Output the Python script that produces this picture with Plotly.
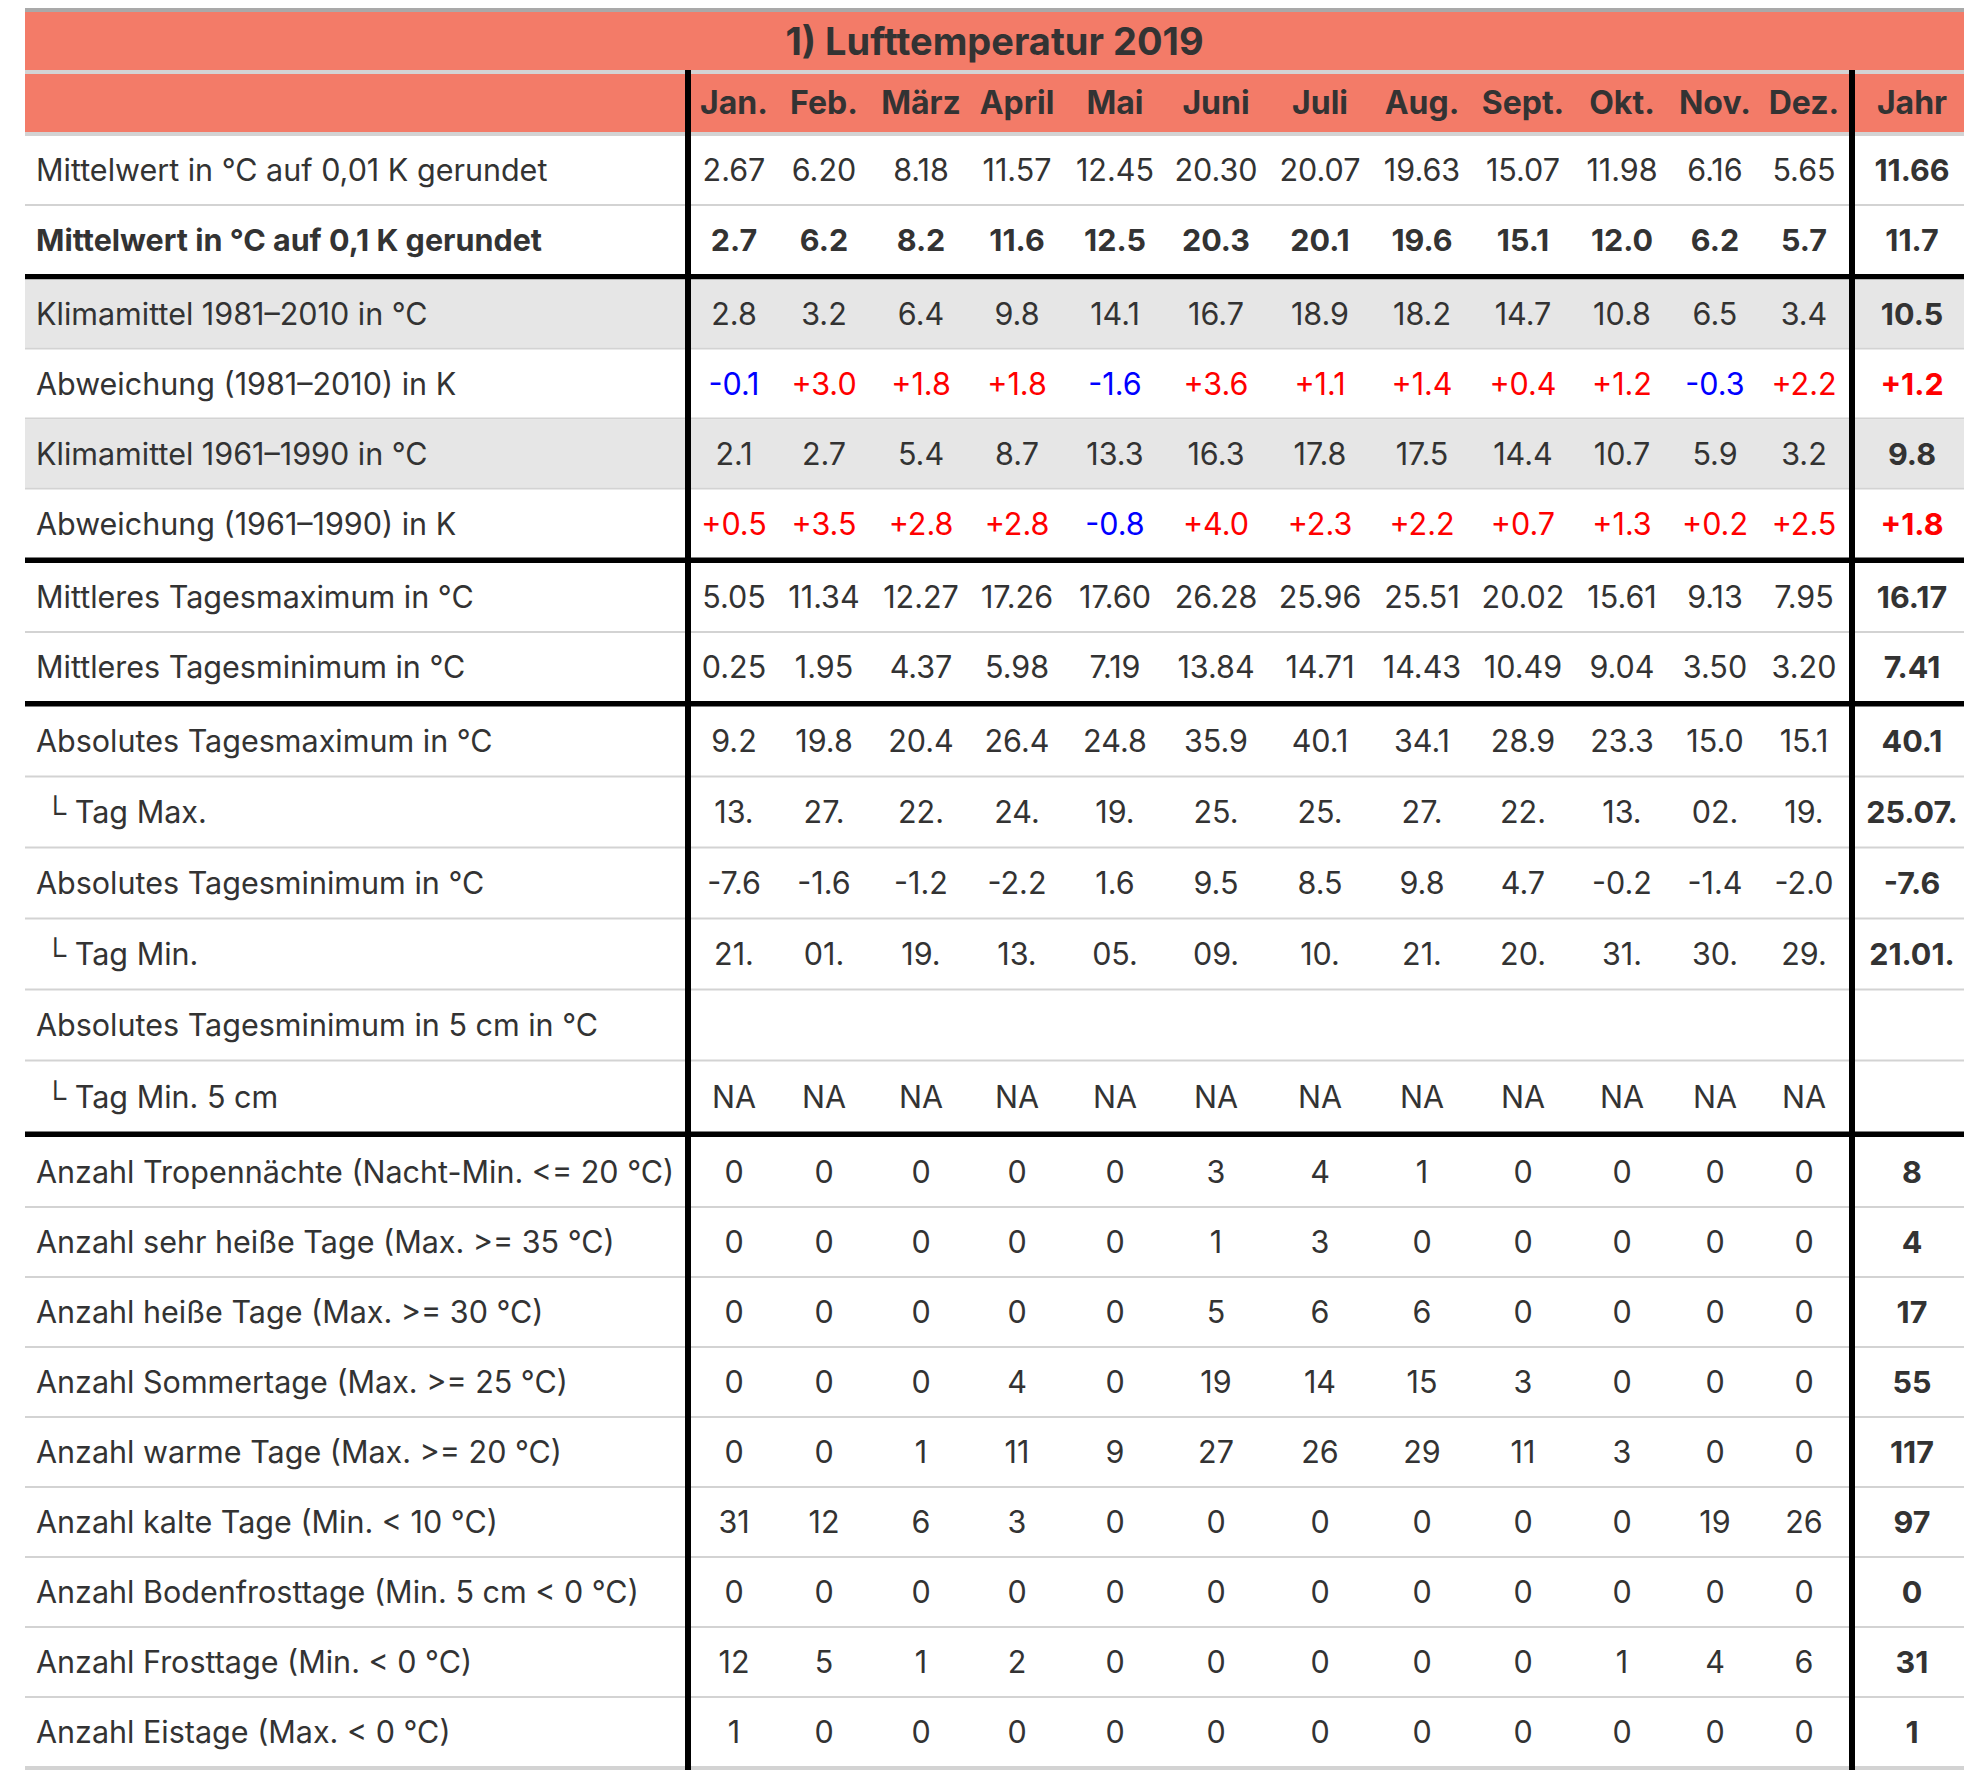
import plotly.graph_objects as go

# --- Daten ---
titel = "1) Lufttemperatur 2019"
monate = ["Jan.", "Feb.", "März", "April", "Mai", "Juni", "Juli", "Aug.", "Sept.", "Okt.", "Nov.", "Dez."]
jahr_kopf = "Jahr"

zeilen = [
    "Mittelwert in °C auf 0,01 K gerundet",
    "Mittelwert in °C auf 0,1 K gerundet",
    "Klimamittel 1981–2010 in °C",
    "Abweichung (1981–2010) in K",
    "Klimamittel 1961–1990 in °C",
    "Abweichung (1961–1990) in K",
    "Mittleres Tagesmaximum in °C",
    "Mittleres Tagesminimum in °C",
    "Absolutes Tagesmaximum in °C",
    "\u00a0└ Tag Max.",
    "Absolutes Tagesminimum in °C",
    "\u00a0└ Tag Min.",
    "Absolutes Tagesminimum in 5 cm in °C",
    "\u00a0└ Tag Min. 5 cm",
    "Anzahl Tropennächte (Nacht-Min. <= 20 °C)",
    "Anzahl sehr heiße Tage (Max. >= 35 °C)",
    "Anzahl heiße Tage (Max. >= 30 °C)",
    "Anzahl Sommertage (Max. >= 25 °C)",
    "Anzahl warme Tage (Max. >= 20 °C)",
    "Anzahl kalte Tage (Min. < 10 °C)",
    "Anzahl Bodenfrosttage (Min. 5 cm < 0 °C)",
    "Anzahl Frosttage (Min. < 0 °C)",
    "Anzahl Eistage (Max. < 0 °C)",
]

mittel_001 = ["2.67", "6.20", "8.18", "11.57", "12.45", "20.30", "20.07", "19.63", "15.07", "11.98", "6.16", "5.65"]
mittel_01 = ["2.7", "6.2", "8.2", "11.6", "12.5", "20.3", "20.1", "19.6", "15.1", "12.0", "6.2", "5.7"]
klima_8110 = ["2.8", "3.2", "6.4", "9.8", "14.1", "16.7", "18.9", "18.2", "14.7", "10.8", "6.5", "3.4"]
abw_8110 = ["-0.1", "+3.0", "+1.8", "+1.8", "-1.6", "+3.6", "+1.1", "+1.4", "+0.4", "+1.2", "-0.3", "+2.2"]
klima_6190 = ["2.1", "2.7", "5.4", "8.7", "13.3", "16.3", "17.8", "17.5", "14.4", "10.7", "5.9", "3.2"]
abw_6190 = ["+0.5", "+3.5", "+2.8", "+2.8", "-0.8", "+4.0", "+2.3", "+2.2", "+0.7", "+1.3", "+0.2", "+2.5"]
tmax_mittel = ["5.05", "11.34", "12.27", "17.26", "17.60", "26.28", "25.96", "25.51", "20.02", "15.61", "9.13", "7.95"]
tmin_mittel = ["0.25", "1.95", "4.37", "5.98", "7.19", "13.84", "14.71", "14.43", "10.49", "9.04", "3.50", "3.20"]
tmax_abs = ["9.2", "19.8", "20.4", "26.4", "24.8", "35.9", "40.1", "34.1", "28.9", "23.3", "15.0", "15.1"]
tag_max = ["13.", "27.", "22.", "24.", "19.", "25.", "25.", "27.", "22.", "13.", "02.", "19."]
tmin_abs = ["-7.6", "-1.6", "-1.2", "-2.2", "1.6", "9.5", "8.5", "9.8", "4.7", "-0.2", "-1.4", "-2.0"]
tag_min = ["21.", "01.", "19.", "13.", "05.", "09.", "10.", "21.", "20.", "31.", "30.", "29."]
tmin5_abs = ["", "", "", "", "", "", "", "", "", "", "", ""]
tag_min5 = ["NA", "NA", "NA", "NA", "NA", "NA", "NA", "NA", "NA", "NA", "NA", "NA"]
tropennaechte = [0, 0, 0, 0, 0, 3, 4, 1, 0, 0, 0, 0]
sehr_heisse_tage = [0, 0, 0, 0, 0, 1, 3, 0, 0, 0, 0, 0]
heisse_tage = [0, 0, 0, 0, 0, 5, 6, 6, 0, 0, 0, 0]
sommertage = [0, 0, 0, 4, 0, 19, 14, 15, 3, 0, 0, 0]
warme_tage = [0, 0, 1, 11, 9, 27, 26, 29, 11, 3, 0, 0]
kalte_tage = [31, 12, 6, 3, 0, 0, 0, 0, 0, 0, 19, 26]
bodenfrosttage = [0, 0, 0, 0, 0, 0, 0, 0, 0, 0, 0, 0]
frosttage = [12, 5, 1, 2, 0, 0, 0, 0, 0, 1, 4, 6]
eistage = [1, 0, 0, 0, 0, 0, 0, 0, 0, 0, 0, 0]

jahr = ["11.66", "11.7", "10.5", "+1.2", "9.8", "+1.8", "16.17", "7.41", "40.1", "25.07.",
        "-7.6", "21.01.", "", "", "8", "4", "17", "55", "117", "97", "0", "31", "1"]

werte = [mittel_001, mittel_01, klima_8110, abw_8110, klima_6190, abw_6190,
         tmax_mittel, tmin_mittel, tmax_abs, tag_max, tmin_abs, tag_min, tmin5_abs, tag_min5,
         tropennaechte, sehr_heisse_tage, heisse_tage, sommertage, warme_tage, kalte_tage,
         bodenfrosttage, frosttage, eistage]

# --- Layout / Stil ---
W, H = 1964, 1778
FONT = "Inter"
SIZE = 30.5
SIZE_KOPF = 32
SIZE_TITEL = 38
TEXT = "#333333"
LACHS = "#F37B68"
ZEILE_GRAU = "#E6E6E6"
LINIE = "#D3D3D3"
ROT, BLAU = "#FF0000", "#0000FF"

LEFT, RIGHT = 25, 1964
LABEL_X = 36
COL_LEFT = 691
COL_WIDTHS = [86, 94, 100, 92, 104, 98, 110, 94, 108, 90, 96, 82]
JAHR_X = 1912
V_LINES = [688, 1852]
TEXT_DY = 3.5   # Plotly setzt "middle" etwas zu hoch

fett_zeilen = {1}
grau_zeilen = {2, 4}
abw_zeilen = {3, 5}
dick_nach = {1, 5, 7, 13}
ZEILEN_H = [70, 73.5, 70, 70, 70, 73.5, 70, 73.5, 71, 71, 71, 71, 71, 75.5,
            71, 70, 70, 70, 70, 70, 70, 70, 72]

col_x = []
x = COL_LEFT
for w in COL_WIDTHS:
    col_x.append(x + w / 2)
    x += w

shapes = []


def band(y0, y1, color, x0=LEFT, x1=RIGHT):
    shapes.append(dict(type="rect", xref="x", yref="y", x0=x0, x1=x1, y0=y0, y1=y1,
                       fillcolor=color, line=dict(width=0), layer="below"))


band(8, 12, "#A9A9A9")
band(12, 70, LACHS)
band(70, 74, LINIE)
band(74, 132, LACHS)
band(132, 136, LINIE)

y_mitte = []
y = 136
for i, h in enumerate(ZEILEN_H):
    top, bot = y, y + h
    if i in dick_nach:
        rand, farbe = 5.5, "#000000"
    elif i == len(ZEILEN_H) - 1:
        rand, farbe = 4, LINIE
    else:
        rand, farbe = 2, LINIE
    if i in grau_zeilen:
        band(top, bot - rand, ZEILE_GRAU)
    band(bot - rand, bot, farbe)
    y_mitte.append((top + bot - rand) / 2 + TEXT_DY)
    y = bot

for vx in V_LINES:
    band(70, y, "#000000", vx - 3, vx + 3)

fig = go.Figure()


def spalte(xs, ys, texte, farben, pos="middle center", size=SIZE):
    fig.add_trace(go.Scatter(
        x=xs, y=ys, text=texte, mode="text", textposition=pos,
        textfont=dict(family=FONT, size=size, color=farben),
        hoverinfo="skip", showlegend=False, cliponaxis=False))


def farbe_fuer(i, wert):
    if i in abw_zeilen and wert:
        return ROT if float(wert) > 0 else BLAU
    return TEXT


# Titel und Kopfzeile
spalte([(LEFT + RIGHT) / 2], [41 + TEXT_DY + 1], ["<b>" + titel + "</b>"], [TEXT], size=SIZE_TITEL)
spalte(col_x + [JAHR_X], [103 + TEXT_DY - 1] * 13, ["<b>" + m + "</b>" for m in monate + [jahr_kopf]],
       [TEXT] * 13, size=SIZE_KOPF)

# Zeilenbeschriftungen
spalte([LABEL_X] * len(zeilen), y_mitte,
       ["<b>" + z + "</b>" if i in fett_zeilen else z for i, z in enumerate(zeilen)],
       [TEXT] * len(zeilen), pos="middle right")

# Monatswerte
for m in range(12):
    texte, farben = [], []
    for i, reihe in enumerate(werte):
        t = str(reihe[m])
        farben.append(farbe_fuer(i, t))
        texte.append("<b>" + t + "</b>" if i in fett_zeilen and t else t)
    spalte([col_x[m]] * len(werte), y_mitte, texte, farben)

# Jahreswerte
spalte([JAHR_X] * len(jahr), y_mitte,
       ["<b>" + t + "</b>" if t else t for t in jahr],
       [farbe_fuer(i, t) for i, t in enumerate(jahr)])

fig.update_layout(
    width=W, height=H, margin=dict(l=0, r=0, t=0, b=0),
    paper_bgcolor="white", plot_bgcolor="white",
    shapes=shapes,
    xaxis=dict(range=[0, W], visible=False, fixedrange=True),
    yaxis=dict(range=[H, 0], visible=False, fixedrange=True),
)

fig.write_html("out.html", config={"displayModeBar": False},
               post_script="document.body.style.margin='0px';")
